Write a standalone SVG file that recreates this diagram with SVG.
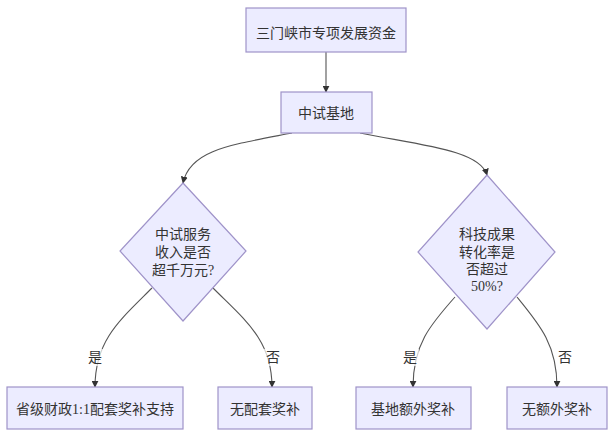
<svg xmlns="http://www.w3.org/2000/svg" width="612" height="431" viewBox="0 0 612 431">
<style>
.node rect,.node polygon{fill:#ECECFF;stroke:#9F93C9;stroke-width:1.2}
text{font-family:"Liberation Serif","Noto Sans CJK SC",serif;font-size:14px;fill:#333;text-anchor:middle;dominant-baseline:central}
.edge{fill:none;stroke:#555;stroke-width:1.1;marker-end:url(#arr)}
.lbl rect{fill:#fff;stroke:none;opacity:0.7}
</style>
<defs>
<marker id="arr" viewBox="0 0 10 10" refX="9" refY="5" markerWidth="7" markerHeight="7" orient="auto" markerUnits="userSpaceOnUse">
<path d="M0,0 L10,5 L0,10 z" fill="#333"/>
</marker>
</defs>
<rect width="612" height="431" fill="#fff"/>
<g id="connectors">
<path class="edge" d="M326,52 L326,92"/>
<path class="edge" d="M292,133 C230,145 190,150 183,183"/>
<path class="edge" d="M360,133 C420,145 480,150 487,175"/>
<path class="edge" d="M152,288 C120,320 95,340 95,387"/>
<path class="edge" d="M213,288 C245,320 272,340 272,387"/>
<path class="edge" d="M455,297 C430,325 413,345 413,387"/>
<path class="edge" d="M517,297 C540,325 557,345 557,387"/>
</g>
<g id="edge-labels">
<g class="lbl"><rect x="87" y="349" width="16" height="17"/><text x="95" y="357">是</text></g>
<g class="lbl"><rect x="264" y="349" width="16" height="17"/><text x="273" y="357">否</text></g>
<g class="lbl"><rect x="403" y="349" width="16" height="17"/><text x="410" y="357">是</text></g>
<g class="lbl"><rect x="557" y="349" width="16" height="17"/><text x="565" y="357">否</text></g>
</g>
<g id="n1" class="node"><rect x="246" y="8" width="160" height="44"/><text x="326" y="33">三门峡市专项发展资金</text></g>
<g id="n2" class="node"><rect x="281" y="92" width="91" height="41"/><text x="326" y="113">中试基地</text></g>
<g id="n3" class="node"><polygon points="183,183 246,251 183,321 120,251"/>
<text x="183" y="234">中试服务</text><text x="183" y="252">收入是否</text><text x="183" y="270">超千万元?</text></g>
<g id="n4" class="node"><polygon points="487,175 555,252 487,329 418,252"/>
<text x="487" y="234">科技成果</text><text x="487" y="252">转化率是</text><text x="487" y="269">否超过</text><text x="487" y="286">50%?</text></g>
<g id="n5" class="node"><rect x="7" y="387" width="176" height="42"/><text x="95" y="409">省级财政1:1配套奖补支持</text></g>
<g id="n6" class="node"><rect x="218" y="387" width="94" height="42"/><text x="265" y="409">无配套奖补</text></g>
<g id="n7" class="node"><rect x="356" y="387" width="115" height="42"/><text x="413" y="409">基地额外奖补</text></g>
<g id="n8" class="node"><rect x="507" y="387" width="100" height="42"/><text x="557" y="409">无额外奖补</text></g>
</svg>
